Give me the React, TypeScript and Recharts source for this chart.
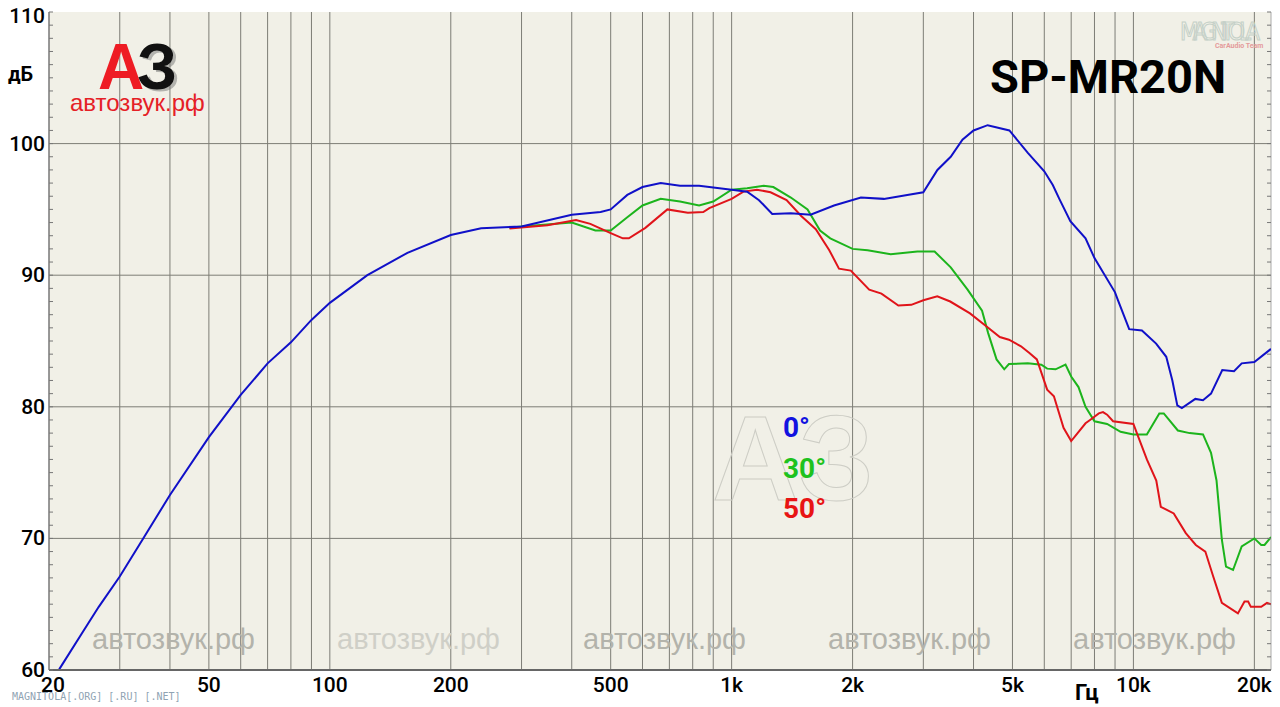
import React from 'react';
import {
  LineChart,
  Line,
  XAxis,
  YAxis,
  CartesianGrid,
  ReferenceLine,
} from 'recharts';

// 0° (on-axis)
const freq0 = [
  21.2, 24.4, 26.6, 30, 34.5, 40, 50, 60, 70, 80, 90, 100, 124, 156, 200, 238,
  300, 400, 472, 500, 550, 600, 666, 744, 830, 1000, 1093, 1170, 1262, 1404,
  1572, 1798, 2098, 2393, 2736, 3000, 3252, 3510, 3754, 4000, 4338, 4912, 5460,
  6000, 6300, 6540, 6966, 7600, 8000, 9000, 9150, 9760, 10500, 11390, 12070,
  12500, 12860, 13200, 14260, 14900, 15600, 16640, 17800, 18600, 20000, 22000,
];
const db0 = [
  60.05, 63.0, 64.8, 67.1, 70.1, 73.3, 77.7, 80.9, 83.3, 84.9, 86.6, 87.9, 90.0,
  91.7, 93.05, 93.56, 93.7, 94.6, 94.8, 95.0, 96.1, 96.7, 97.0, 96.8, 96.8, 96.5,
  96.35, 95.7, 94.65, 94.7, 94.6, 95.3, 95.9, 95.8, 96.1, 96.3, 98.0, 99.0, 100.3,
  101.0, 101.4, 101.0, 99.3, 97.9, 96.85, 95.8, 94.1, 92.8, 91.3, 88.7, 88.1,
  85.9, 85.8, 84.8, 83.8, 82.0, 80.1, 79.9, 80.6, 80.5, 81.0, 82.8, 82.7, 83.3,
  83.4, 84.4,
];

// 30°
const freq30 = [
  280, 300, 400, 458, 500, 550, 600, 666, 744, 830, 900, 1000, 1093, 1202, 1270,
  1404, 1545, 1660, 1760, 2000, 2180, 2488, 2900, 3200, 3510, 3866, 4200, 4350,
  4564, 4770, 4900, 5460, 5900, 6100, 6400, 6776, 7000, 7300, 7600, 8000, 8600,
  9290, 10000, 10800, 11600, 11900, 12900, 13800, 14900, 15600, 16100, 16600,
  17000, 17700, 18600, 20000, 20800, 21200, 22000,
];
const db30 = [
  93.6, 93.7, 94.0, 93.4, 93.4, 94.4, 95.3, 95.8, 95.6, 95.3, 95.6, 96.5, 96.6,
  96.8, 96.7, 95.9, 95.0, 93.4, 92.8, 92.0, 91.9, 91.6, 91.8, 91.8, 90.6, 88.9,
  87.3, 85.6, 83.6, 82.85, 83.25, 83.3, 83.2, 82.9, 82.85, 83.2, 82.3, 81.5,
  80.0, 78.9, 78.7, 78.1, 77.9, 77.9, 79.5, 79.5, 78.2, 78.0, 77.9, 76.5, 74.4,
  69.9, 67.85, 67.6, 69.4, 70.0, 69.5, 69.5, 70.1,
];

// 50°
const freq50 = [
  280, 348, 410, 445, 500, 536, 555, 610, 692, 778, 850, 880, 1000, 1070, 1156,
  1250, 1370, 1490, 1620, 1750, 1850, 1980, 2200, 2360, 2600, 2800, 3000, 3250,
  3500, 3920, 4350, 4650, 4900, 5250, 5500, 5750, 6100, 6340, 6700, 7000, 7600,
  7800, 8200, 8400, 8600, 8900, 10000, 10200, 10800, 11400, 11700, 12600, 13500,
  14300, 15100, 15800, 16600, 18200, 18900, 19300, 19600, 20800, 21500, 22000,
];
const db50 = [
  93.55, 93.8, 94.2, 93.9, 93.2, 92.8, 92.8, 93.6, 95.0, 94.75, 94.8, 95.1, 95.8,
  96.35, 96.5, 96.3, 95.7, 94.5, 93.5, 91.9, 90.5, 90.35, 88.9, 88.6, 87.7,
  87.75, 88.1, 88.4, 88.0, 87.1, 86.0, 85.3, 85.1, 84.6, 84.1, 83.6, 81.3, 80.8,
  78.4, 77.4, 78.75, 79.0, 79.5, 79.6, 79.4, 78.9, 78.7, 78.0, 76.0, 74.4, 72.4,
  71.9, 70.4, 69.5, 69.0, 67.1, 65.1, 64.3, 65.2, 65.2, 64.8, 64.8, 65.1, 65.0,
];

const xTicks = [20, 50, 100, 200, 500, 1000, 2000, 5000, 10000, 20000];
const xTickLabels = ['20', '50', '100', '200', '500', '1k', '2k', '5k', '10k', '20k'];
const gridFreqs = [
  30, 40, 50, 60, 70, 80, 90, 100, 200, 300, 400, 500, 600, 700, 800, 900, 1000,
  2000, 3000, 4000, 5000, 6000, 7000, 8000, 9000, 10000, 20000,
];
const gridDb = [70, 80, 90, 100];
const yTicks = Array.from({ length: 51 }, (_, i) => 60 + i);

const toPoints = (f: number[], v: number[]) =>
  f.map((x, i) => ({ f: x, db: v[i] }));

const PLOT_LEFT = 49;
const PLOT_RIGHT = 1271;
const FONT = 'Roboto, "Liberation Sans", sans-serif';

const YTick = (props: any) => {
  const { y, payload } = props;
  const v = payload.value as number;
  return (
    <g>
      <line x1={PLOT_LEFT} x2={PLOT_LEFT + 4} y1={y} y2={y} stroke="#777" />
      <line x1={PLOT_RIGHT - 4} x2={PLOT_RIGHT} y1={y} y2={y} stroke="#777" />
      {v % 10 === 0 && (
        <text
          x={45}
          y={v === 110 ? 23 : y + 7}
          textAnchor="end"
          fontFamily={FONT}
          fontWeight={500}
          fontSize={21}
          fill="#000"
        >
          {v}
        </text>
      )}
    </g>
  );
};

const XTick = (props: any) => {
  const { x, payload } = props;
  const i = xTicks.indexOf(payload.value);
  return (
    <text
      x={i === 0 ? x + 4 : x}
      y={692}
      textAnchor="middle"
      fontFamily={FONT}
      fontWeight={500}
      fontSize={21}
      fill="#000"
    >
      {xTickLabels[i]}
    </text>
  );
};

const watermarkX = [92, 337, 583, 828, 1073];

export default function App() {
  return (
    <div
      style={{
        position: 'absolute',
        left: 0,
        top: 0,
        width: 1280,
        height: 707,
        background: '#fff',
      }}
    >
      <LineChart
        width={1280}
        height={707}
        margin={{ top: 12, right: 9, left: 0, bottom: 0 }}
      >
        <CartesianGrid
          fill="#f1f0e7"
          fillOpacity={1}
          stroke="#7d7d76"
          strokeWidth={1}
          horizontalValues={gridDb}
          verticalValues={gridFreqs}
        />
        <XAxis
          dataKey="f"
          type="number"
          scale="log"
          domain={[20, 22000]}
          allowDataOverflow
          ticks={xTicks}
          interval={0}
          tick={<XTick />}
          tickLine={false}
          axisLine={{ stroke: '#666', strokeWidth: 2 }}
          height={37}
        />
        <YAxis
          dataKey="db"
          type="number"
          domain={[60, 110]}
          allowDataOverflow
          ticks={yTicks}
          interval={0}
          tick={<YTick />}
          tickLine={false}
          axisLine={{ stroke: '#777', strokeWidth: 1.5 }}
          width={49}
        />
        <ReferenceLine x={22000} stroke="#aaa" />
        <Line
          data={toPoints(freq30, db30)}
          dataKey="db"
          stroke="#1cb41c"
          strokeWidth={2}
          dot={false}
          type="linear"
          isAnimationActive={false}
        />
        <Line
          data={toPoints(freq50, db50)}
          dataKey="db"
          stroke="#e0141a"
          strokeWidth={2}
          dot={false}
          type="linear"
          isAnimationActive={false}
        />
        <Line
          data={toPoints(freq0, db0)}
          dataKey="db"
          stroke="#1010c8"
          strokeWidth={2}
          dot={false}
          type="linear"
          isAnimationActive={false}
        />
      </LineChart>

      <svg
        width={1280}
        height={707}
        style={{ position: 'absolute', left: 0, top: 0, pointerEvents: 'none' }}
      >
        {/* watermarks */}
        {watermarkX.map((x, i) => (
          <text
            key={x}
            x={x}
            y={649}
            fontFamily='"Liberation Sans", Arial, sans-serif'
            fontSize={29}
            fill={i === 1 ? '#cfcfc7' : '#b3b3ab'}
          >
            автозвук.рф
          </text>
        ))}
        <text
          x={712}
          y={500}
          fontFamily='"Liberation Sans", Arial, sans-serif'
          fontWeight={700}
          fontSize={120}
          fill="none"
          stroke="#cdcdc5"
          strokeWidth={1}
        >
          АЗ
        </text>

        {/* logo */}
        <text
          x={98}
          y={89}
          fontFamily='"Liberation Sans", Arial, sans-serif'
          fontWeight={700}
          fontSize={64}
          fill="#ee1c24"
        >
          А
        </text>
        <text
          x={140}
          y={91}
          fontFamily='"Liberation Sans", Arial, sans-serif'
          fontWeight={700}
          fontSize={64}
          fill="#777"
          opacity={0.5}
        >
          З
        </text>
        <text
          x={137}
          y={89}
          fontFamily='"Liberation Sans", Arial, sans-serif'
          fontWeight={700}
          fontSize={64}
          fill="#111"
        >
          З
        </text>
        <text
          x={70}
          y={111}
          fontFamily='"Liberation Sans", Arial, sans-serif'
          fontSize={24}
          fill="#e52026"
        >
          автозвук.рф
        </text>

        {/* axis units */}
        <text x={8} y={81} fontFamily={FONT} fontWeight={700} fontSize={20} fill="#000">
          дБ
        </text>
        <text x={1075} y={700} fontFamily={FONT} fontWeight={700} fontSize={22} fill="#000">
          Гц
        </text>

        {/* title */}
        <text x={990} y={93} fontFamily={FONT} fontWeight={700} fontSize={47} fill="#000">
          SP-MR20N
        </text>
        <text
          x={1180}
          y={40}
          fontFamily='"DejaVu Sans Condensed", "DejaVu Sans", sans-serif'
          fontSize={24}
          fill="none"
          stroke="#c5d0c8"
          strokeWidth={1}
          textLength={80}
        >
          MAGNITOLA
        </text>
        <text
          x={1215}
          y={48}
          fontFamily={FONT}
          fontWeight={700}
          fontSize={7}
          fill="#e49a9a"
        >
          CarAudio Team
        </text>

        {/* legend */}
        <text x={783} y={437} fontFamily={FONT} fontWeight={700} fontSize={28} fill="#1212e0">
          0°
        </text>
        <text x={783} y={478} fontFamily={FONT} fontWeight={700} fontSize={28} fill="#1ec21e">
          30°
        </text>
        <text x={783} y={518} fontFamily={FONT} fontWeight={700} fontSize={28} fill="#e81414">
          50°
        </text>

        <text
          x={12}
          y={700}
          fontFamily='"DejaVu Sans Mono", monospace'
          fontSize={10}
          fill="#8fa3b3"
        >
          MAGNITOLA[.ORG] [.RU] [.NET]
        </text>
      </svg>
    </div>
  );
}
